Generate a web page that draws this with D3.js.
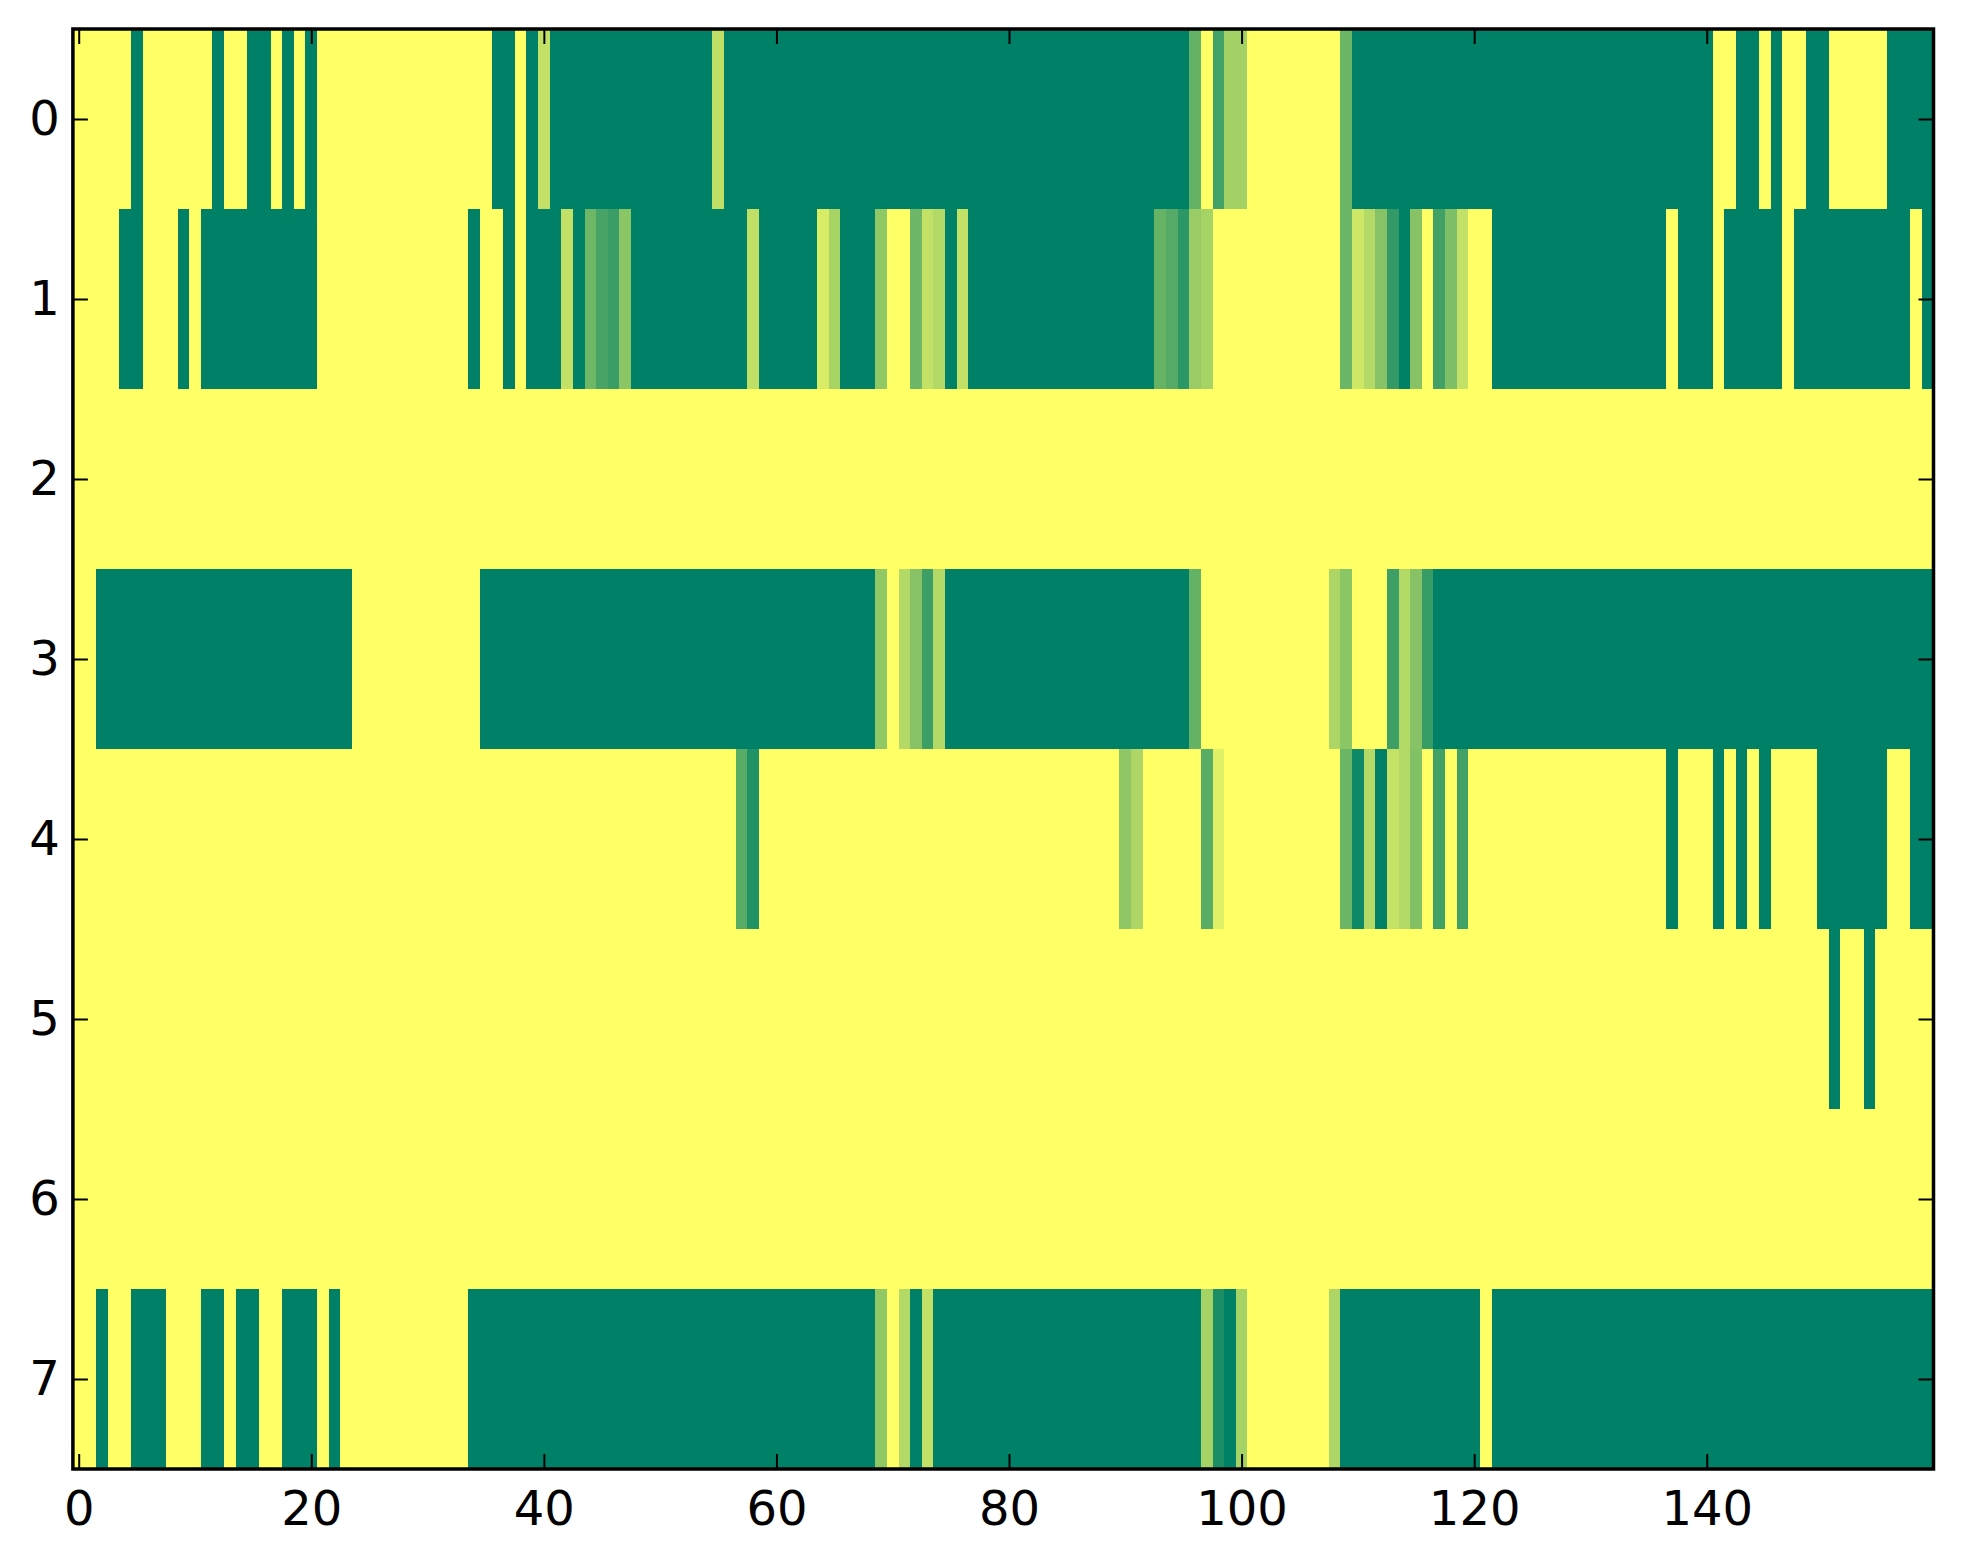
<!DOCTYPE html>
<html>
<head>
<meta charset="utf-8">
<script src="https://cdn.jsdelivr.net/npm/d3@7"></script>
<style>
  body { margin: 0; background: #fff; }
  svg text { font-family: "DejaVu Sans", sans-serif; }
</style>
</head>
<body>
<svg id="chart" width="1963" height="1564"></svg>
<script>
// heatmap rows (0 = dark green, 1 = yellow), 160 columns each
var row0 = [1,1,1,1,1,0,1,1,1,1, 1,1,0,1,1,0,0,1,0,1,
            0,1,1,1,1,1,1,1,1,1, 1,1,1,1,1,1,0,0,1,0,
            .76,0,0,0,0,0,0,0,0,0, 0,0,0,0,0,.75,0,0,0,0,
            0,0,0,0,0,0,0,0,0,0, 0,0,0,0,0,0,0,0,0,0,
            0,0,0,0,0,0,0,0,0,0, 0,0,0,0,0,0,.39,1,.26,.64,
            .64,1,1,1,1,1,1,1,1,.42, 0,0,0,0,0,0,0,0,0,0,
            0,0,0,0,0,0,0,0,0,0, 0,0,0,0,0,0,0,0,0,0,
            0,1,1,0,0,1,0,1,1,0, 0,1,1,1,1,1,0,0,0,0];
var row1 = [1,1,1,1,0,0,1,1,1,0, 1,0,0,0,0,0,0,0,0,0,
            0,1,1,1,1,1,1,1,1,1, 1,1,1,1,0,1,1,0,1,0,
            0,0,.76,0,.43,.28,.23,.54,0,0, 0,0,0,0,0,0,0,0,.75,0,
            0,0,0,0,.85,.66,0,0,0,.57, 1,1,.43,.76,.7,0,.76,0,0,0,
            0,0,0,0,0,0,0,0,0,0, 0,0,0,.4,.33,.17,.6,.65,1,1,
            1,1,1,1,1,1,1,1,1,.42, .81,.7,.53,.2,0,.53,1,.26,.49,.76,
            1,1,0,0,0,0,0,0,0,0, 0,0,0,0,0,0,0,1,0,0,
            0,1,0,0,0,0,0,1,0,0, 0,0,0,0,0,0,0,0,1,0];
var row2 = [1,1,1,1,1,1,1,1,1,1, 1,1,1,1,1,1,1,1,1,1,
            1,1,1,1,1,1,1,1,1,1, 1,1,1,1,1,1,1,1,1,1,
            1,1,1,1,1,1,1,1,1,1, 1,1,1,1,1,1,1,1,1,1,
            1,1,1,1,1,1,1,1,1,1, 1,1,1,1,1,1,1,1,1,1,
            1,1,1,1,1,1,1,1,1,1, 1,1,1,1,1,1,1,1,1,1,
            1,1,1,1,1,1,1,1,1,1, 1,1,1,1,1,1,1,1,1,1,
            1,1,1,1,1,1,1,1,1,1, 1,1,1,1,1,1,1,1,1,1,
            1,1,1,1,1,1,1,1,1,1, 1,1,1,1,1,1,1,1,1,1];
var row3 = [1,1,0,0,0,0,0,0,0,0, 0,0,0,0,0,0,0,0,0,0,
            0,0,0,0,1,1,1,1,1,1, 1,1,1,1,1,0,0,0,0,0,
            0,0,0,0,0,0,0,0,0,0, 0,0,0,0,0,0,0,0,0,0,
            0,0,0,0,0,0,0,0,0,.57, 1,.7,.53,.24,.7,0,0,0,0,0,
            0,0,0,0,0,0,0,0,0,0, 0,0,0,0,0,0,.39,1,1,1,
            1,1,1,1,1,1,1,1,.68,.54, 1,1,1,.24,.7,.53,.22,0,0,0,
            0,0,0,0,0,0,0,0,0,0, 0,0,0,0,0,0,0,0,0,0,
            0,0,0,0,0,0,0,0,0,0, 0,0,0,0,0,0,0,0,0,0];
var row4 = [1,1,1,1,1,1,1,1,1,1, 1,1,1,1,1,1,1,1,1,1,
            1,1,1,1,1,1,1,1,1,1, 1,1,1,1,1,1,1,1,1,1,
            1,1,1,1,1,1,1,1,1,1, 1,1,1,1,1,1,1,.35,.13,1,
            1,1,1,1,1,1,1,1,1,1, 1,1,1,1,1,1,1,1,1,1,
            1,1,1,1,1,1,1,1,1,1, .56,.68,1,1,1,1,1,.35,.88,1,
            1,1,1,1,1,1,1,1,1,.42, .06,.7,0,.77,.7,.51,1,.25,1,.25,
            1,1,1,1,1,1,1,1,1,1, 1,1,1,1,1,1,1,0,1,1,
            1,0,1,0,1,0,1,1,1,1, 0,0,0,0,0,0,1,1,0,0];
var row5 = [1,1,1,1,1,1,1,1,1,1, 1,1,1,1,1,1,1,1,1,1,
            1,1,1,1,1,1,1,1,1,1, 1,1,1,1,1,1,1,1,1,1,
            1,1,1,1,1,1,1,1,1,1, 1,1,1,1,1,1,1,1,1,1,
            1,1,1,1,1,1,1,1,1,1, 1,1,1,1,1,1,1,1,1,1,
            1,1,1,1,1,1,1,1,1,1, 1,1,1,1,1,1,1,1,1,1,
            1,1,1,1,1,1,1,1,1,1, 1,1,1,1,1,1,1,1,1,1,
            1,1,1,1,1,1,1,1,1,1, 1,1,1,1,1,1,1,1,1,1,
            1,1,1,1,1,1,1,1,1,1, 1,0,1,1,0,1,1,1,1,1];
var row6 = [1,1,1,1,1,1,1,1,1,1, 1,1,1,1,1,1,1,1,1,1,
            1,1,1,1,1,1,1,1,1,1, 1,1,1,1,1,1,1,1,1,1,
            1,1,1,1,1,1,1,1,1,1, 1,1,1,1,1,1,1,1,1,1,
            1,1,1,1,1,1,1,1,1,1, 1,1,1,1,1,1,1,1,1,1,
            1,1,1,1,1,1,1,1,1,1, 1,1,1,1,1,1,1,1,1,1,
            1,1,1,1,1,1,1,1,1,1, 1,1,1,1,1,1,1,1,1,1,
            1,1,1,1,1,1,1,1,1,1, 1,1,1,1,1,1,1,1,1,1,
            1,1,1,1,1,1,1,1,1,1, 1,1,1,1,1,1,1,1,1,1];
var row7 = [1,1,0,1,1,0,0,0,1,1, 1,0,0,1,0,0,1,1,0,0,
            0,1,0,1,1,1,1,1,1,1, 1,1,1,1,0,0,0,0,0,0,
            0,0,0,0,0,0,0,0,0,0, 0,0,0,0,0,0,0,0,0,0,
            0,0,0,0,0,0,0,0,0,.57, 1,.7,0,.76,0,0,0,0,0,0,
            0,0,0,0,0,0,0,0,0,0, 0,0,0,0,0,0,0,.65,.11,0,
            .65,1,1,1,1,1,1,1,.68,0, 0,0,0,0,0,0,0,0,0,0,
            0,1,0,0,0,0,0,0,0,0, 0,0,0,0,0,0,0,0,0,0,
            0,0,0,0,0,0,0,0,0,0, 0,0,0,0,0,0,0,0,0,0];

var rows = [row0, row1, row2, row3, row4, row5, row6, row7];
var xTicks = [0, 20, 40, 60, 80, 100, 120, 140];
var yTicks = [0, 1, 2, 3, 4, 5, 6, 7];

var svg = d3.select("#chart");

var plotL = 72.9, plotR = 1933.5, plotT = 29, plotB = 1469;

var x = d3.scaleLinear().domain([-0.5, 159.5]).range([plotL, plotR]);
var y = d3.scaleLinear().domain([-0.5, 7.5]).range([plotT, plotB]);

// summer colormap
var color = d3.scaleLinear().domain([0, 1]).range(["#008066", "#ffff66"]);

var cells = [];
rows.forEach(function(r, ri) {
    r.forEach(function(v, ci) {
        cells.push({row: ri, col: ci, v: v});
    });
});

svg.append("g")
    .attr("shape-rendering", "crispEdges")
    .selectAll("rect")
    .data(cells)
    .enter().append("rect")
    .attr("x", function(d) { return x(d.col - 0.5); })
    .attr("y", function(d) { return y(d.row - 0.5); })
    .attr("width", function(d) { return x(d.col + 0.5) - x(d.col - 0.5) + 0.6; })
    .attr("height", function(d) { return y(d.row + 0.5) - y(d.row - 0.5) + 0.6; })
    .attr("fill", function(d) { return color(d.v); });

// axes, ticks pointing inward
var tickLen = 15;

svg.append("g")
    .attr("transform", "translate(0," + plotB + ")")
    .call(d3.axisBottom(x).tickValues(xTicks).tickSize(-tickLen).tickPadding(22));
svg.append("g")
    .attr("transform", "translate(0," + plotT + ")")
    .call(d3.axisTop(x).tickValues(xTicks).tickSize(-tickLen).tickFormat(""));
svg.append("g")
    .attr("transform", "translate(" + plotL + ",0)")
    .call(d3.axisLeft(y).tickValues(yTicks).tickSize(-tickLen).tickPadding(13));
svg.append("g")
    .attr("transform", "translate(" + plotR + ",0)")
    .call(d3.axisRight(y).tickValues(yTicks).tickSize(-tickLen).tickFormat(""));

svg.selectAll(".domain").remove();
svg.selectAll(".tick line").attr("stroke", "#000").attr("stroke-width", 2);
svg.selectAll(".tick text")
    .attr("font-size", 48)
    .attr("fill", "#000")
    .attr("font-family", "DejaVu Sans");

// frame
svg.append("rect")
    .attr("x", plotL)
    .attr("y", plotT)
    .attr("width", plotR - plotL)
    .attr("height", plotB - plotT)
    .attr("fill", "none")
    .attr("stroke", "#000")
    .attr("stroke-width", 3.5);
</script>
</body>
</html>
